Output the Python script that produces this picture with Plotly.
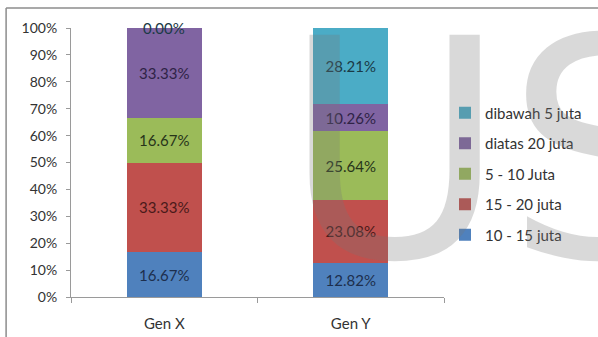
import plotly.graph_objects as go

# Income groups by generation (share of respondents, %)
generations = ["Gen X", "Gen Y"]
series_names = ["10 - 15 juta", "15 - 20 juta", "5 - 10 Juta", "diatas 20 juta", "dibawah 5 juta"]
gen_x_values = [16.67, 33.33, 16.67, 33.33, 0.00]
gen_y_values = [12.82, 23.08, 25.64, 10.26, 28.21]
y_tick_values = list(range(0, 101, 10))
y_tick_labels = [f"{v}%" for v in y_tick_values]

bar_colors = ["#4F81BD", "#C0504D", "#9BBB59", "#8064A2", "#4BACC6"]
label_colors = ["#1d2f4d", "#4a1a1a", "#27341a", "#2f2346", "#1a3a46"]

FONT = "Lato"
n = len(series_names)

fig = go.Figure()
for i, name in enumerate(series_names):
    vals = [gen_x_values[i], gen_y_values[i]]
    fig.add_trace(go.Bar(
        name=name,
        x=generations,
        y=vals,
        marker=dict(color=bar_colors[i], line=dict(width=0)),
        text=[f"{v:.2f}%" if v > 0 else "" for v in vals],
        textposition="inside",
        insidetextanchor="middle",
        textangle=0,
        textfont=dict(family=FONT, size=15, color=label_colors[i]),
        constraintext="none",
        legendgroup=name,
        legendrank=n - i,  # top segment listed first
        hoverinfo="skip",
    ))

# zero-height segments still get their label, centred on the top of the stack
for g, vals in zip(generations, [gen_x_values, gen_y_values]):
    total = 0.0
    for i, v in enumerate(vals):
        total += v
        if v == 0:
            fig.add_annotation(x=g, y=total, xref="x", yref="y", text=f"{v:.2f}%",
                               showarrow=False, yanchor="middle",
                               font=dict(family=FONT, size=15, color=label_colors[i]))

# large pale watermark lettering
wm_font = dict(family="DejaVu Sans", size=305, color="rgba(120,120,120,0.28)")
fig.add_annotation(text="U", xref="paper", yref="paper", x=0.564, y=1.208,
                   xanchor="left", yanchor="top", showarrow=False, font=wm_font)
fig.add_annotation(text="S", xref="paper", yref="paper", x=1.160, y=1.208,
                   xanchor="left", yanchor="top", showarrow=False, font=wm_font)

# outer chart frame (top and left edges)
frame = dict(color="#8c8c8c", width=1.5)
fig.add_shape(type="line", xref="paper", yref="paper", x0=-0.174, x1=1.5, y0=1.074, y1=1.074, line=frame)
fig.add_shape(type="line", xref="paper", yref="paper", x0=-0.174, x1=-0.174, y0=1.074, y1=-0.2, line=frame)

fig.update_layout(
    width=598, height=337,
    margin=dict(l=71, r=153, t=28, b=40),
    barmode="stack",
    bargap=0.6,
    plot_bgcolor="white",
    paper_bgcolor="white",
    font=dict(family=FONT, size=14, color="#333333"),
    showlegend=True,
    legend=dict(
        x=1.0, y=0.745, xanchor="left", yanchor="top",
        traceorder="grouped",
        tracegroupgap=8,
        font=dict(family=FONT, size=15, color="#333333"),
        itemwidth=30,
        bgcolor="rgba(0,0,0,0)",
    ),
)

fig.update_xaxes(
    automargin=False,
    showgrid=False,
    showline=True, linecolor="#9a9a9a", linewidth=1,
    ticks="outside", tickson="boundaries", ticklen=5, tickcolor="#9a9a9a",
    tickfont=dict(family=FONT, size=15, color="#333333"),
    ticklabelstandoff=13,
)
fig.update_yaxes(
    automargin=False,
    range=[0, 100],
    tickvals=y_tick_values, ticktext=y_tick_labels,
    showgrid=False, zeroline=False,
    showline=True, linecolor="#9a9a9a", linewidth=1,
    ticks="outside", ticklen=4, tickcolor="#9a9a9a",
    tickfont=dict(family=FONT, size=14, color="#333333"),
    ticklabelstandoff=6,
)

fig.write_html("out.html")
